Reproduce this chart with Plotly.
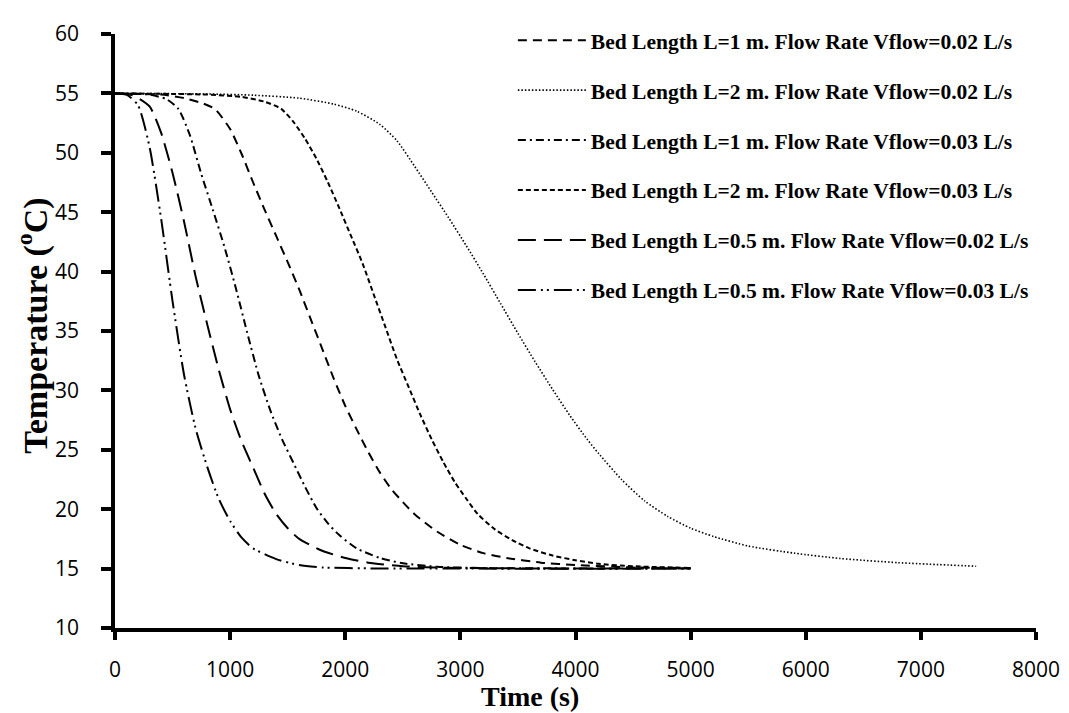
import plotly.graph_objects as go

# ---------------- data ----------------
names = [
    "Bed Length L=1 m. Flow Rate Vflow=0.02 L/s",
    "Bed Length L=2 m. Flow Rate Vflow=0.02 L/s",
    "Bed Length L=1 m. Flow Rate Vflow=0.03 L/s",
    "Bed Length L=2 m. Flow Rate Vflow=0.03 L/s",
    "Bed Length L=0.5 m. Flow Rate Vflow=0.02 L/s",
    "Bed Length L=0.5 m. Flow Rate Vflow=0.03 L/s",
]

t_L1_V02 = [0, 400, 600, 750, 866, 1000, 1100, 1200, 1300, 1400, 1500, 1600, 1700, 1800, 1900, 2000,
            2100, 2200, 2300, 2400, 2500, 2600, 2800, 3000, 3200, 3400, 3700, 4000, 4500, 5000]
T_L1_V02 = [55, 54.9, 54.6, 54.2, 53.7, 52.0, 49.9, 47.5, 45.2, 43.0, 40.8, 38.5, 36.0, 33.5, 31.0, 28.7,
            26.7, 24.8, 23.1, 21.7, 20.6, 19.6, 18.1, 17.0, 16.3, 15.9, 15.5, 15.3, 15.1, 15.05]

t_L2_V02 = [0, 800, 1200, 1600, 1900, 2100, 2300, 2450, 2600, 2750, 2900, 3050, 3200, 3350, 3500, 3650,
            3800, 3950, 4100, 4200, 4400, 4600, 4800, 5000, 5200, 5500, 5900, 6300, 6800, 7480]
T_L2_V02 = [55, 54.95, 54.85, 54.6, 54.1, 53.5, 52.4, 51.0, 48.9, 46.7, 44.5, 42.2, 39.8, 37.3, 34.8, 32.4,
            30.1, 27.9, 25.9, 24.7, 22.5, 20.7, 19.4, 18.4, 17.7, 16.9, 16.3, 15.85, 15.5, 15.2]

t_L1_V03 = [0, 300, 450, 550, 650, 750, 850, 950, 1050, 1150, 1250, 1350, 1450, 1550, 1650, 1750,
            1850, 1950, 2100, 2300, 2500, 2800, 3200, 5000]
T_L1_V03 = [55, 54.9, 54.5, 53.7, 51.5, 48.2, 45.2, 42.1, 38.6, 34.8, 31.2, 28.3, 25.9, 23.9, 21.9, 20.1,
            18.8, 17.8, 16.7, 15.9, 15.45, 15.15, 15.05, 15.0]

t_L2_V03 = [0, 800, 1100, 1300, 1444, 1550, 1650, 1750, 1850, 1950, 2050, 2150, 2250, 2350, 2450, 2550,
            2650, 2750, 2850, 2950, 3050, 3150, 3300, 3450, 3600, 3800, 4000, 4200, 4500, 5000]
T_L2_V03 = [55, 54.9, 54.7, 54.3, 53.7, 52.6, 51.2, 49.5, 47.5, 45.3, 43.0, 40.7, 38.0, 35.3, 32.6, 30.3,
            28.0, 25.9, 24.0, 22.3, 20.9, 19.6, 18.3, 17.4, 16.7, 16.1, 15.7, 15.4, 15.2, 15.05]

t_L05_V02 = [0, 150, 300, 400, 500, 600, 700, 800, 900, 1000, 1100, 1200, 1300, 1400, 1500, 1600,
             1800, 2000, 2200, 2500, 3000, 5000]
T_L05_V02 = [55, 54.85, 53.9, 51.7, 48.3, 44.2, 39.6, 35.6, 31.8, 28.4, 25.7, 23.5, 21.3, 19.6, 18.4, 17.5,
             16.5, 15.9, 15.5, 15.2, 15.05, 15.0]

t_L05_V03 = [0, 100, 200, 300, 400, 500, 600, 700, 800, 900, 1000, 1100, 1200, 1400, 1600, 1800, 2200, 5000]
T_L05_V03 = [55, 54.9, 54.0, 50.5, 44.5, 37.5, 31.3, 26.8, 23.6, 20.9, 19.0, 17.6, 16.7, 15.8, 15.3, 15.1, 15.02, 15.0]

series_t = [t_L1_V02, t_L2_V02, t_L1_V03, t_L2_V03, t_L05_V02, t_L05_V03]
series_T = [T_L1_V02, T_L2_V02, T_L1_V03, T_L2_V03, T_L05_V02, T_L05_V03]

x_ticks = [0, 1000, 2000, 3000, 4000, 5000, 6000, 7000, 8000]
y_ticks = [10, 15, 20, 25, 30, 35, 40, 45, 50, 55, 60]

# ---------------- styles ----------------
dashes = ["9px,6px", "1.5px,2px", "8px,4px,2px,4px", "5px,3px", "18px,8px", "18px,5px,2px,4px,2px,5px"]
widths = [2, 1.6, 2, 2, 2, 2]

fig = go.Figure()
for i, (nm, tx, ty) in enumerate(zip(names, series_t, series_T)):
    fig.add_trace(go.Scatter(
        x=tx, y=ty, name=nm, mode="lines", legendgroup=f"g{i}",
        line=dict(color="black", width=widths[i], dash=dashes[i], shape="spline", smoothing=0.6),
    ))

tick_font = dict(family="Open Sans", size=21, color="black")

fig.update_layout(
    width=1069, height=713,
    margin=dict(l=107, r=41, t=18, b=93),
    paper_bgcolor="white", plot_bgcolor="white",
    showlegend=True,
    legend=dict(
        x=0.432, y=1.024, xanchor="left", yanchor="top",
        font=dict(family="Liberation Serif", size=21.5, color="black", weight="bold"),
        bgcolor="rgba(0,0,0,0)", tracegroupgap=19, itemwidth=68,
    ),
    xaxis=dict(
        range=[0, 8000], tickvals=x_ticks, ticktext=[str(v) for v in x_ticks],
        showgrid=False, zeroline=False, showline=True, linecolor="black", linewidth=3.5,
        ticks="outside", ticklen=8, tickwidth=3.5, tickcolor="black",
        tickfont=tick_font, ticklabelstandoff=12,
    ),
    yaxis=dict(
        range=[10, 60], tickvals=y_ticks, ticktext=[str(v) for v in y_ticks],
        showgrid=False, zeroline=False, showline=True, linecolor="black", linewidth=3.5,
        ticks="outside", ticklen=10, tickwidth=3.5, tickcolor="black",
        tickfont=tick_font, ticklabelstandoff=18,
    ),
    annotations=[
        dict(text="Time (s)", xref="paper", yref="paper", x=0.4506, y=-0.1445,
             xanchor="center", yanchor="bottom", showarrow=False,
             font=dict(family="Liberation Serif", size=28, color="black", weight="bold")),
        dict(text="Temperature (<sup>o</sup>C)", xref="paper", yref="paper", x=-0.0895, y=0.508,
             xanchor="center", yanchor="middle", textangle=-90, showarrow=False,
             font=dict(family="Liberation Serif", size=34, color="black", weight="bold")),
    ],
)

fig.write_html("out.html")
